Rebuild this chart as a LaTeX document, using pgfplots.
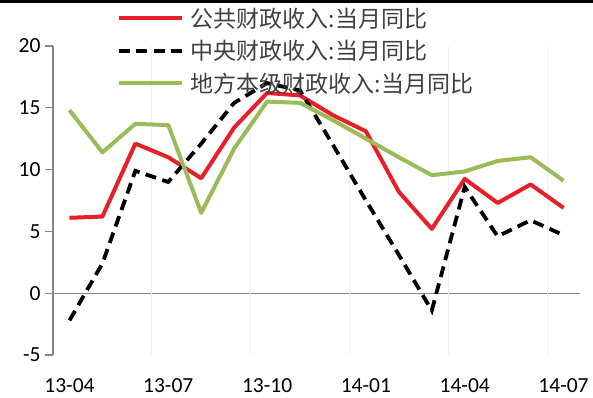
\documentclass[border=0pt]{standalone}
\usepackage{fontspec}
\setmainfont{Carlito}
\newfontfamily\cjk{Noto Sans CJK SC}
\usepackage{pgfplots}
\pgfplotsset{compat=1.18}
\definecolor{cred}{RGB}{232,30,40}
\definecolor{cgreen}{RGB}{155,187,89}
\definecolor{axgray}{RGB}{134,134,134}
\definecolor{txtgray}{RGB}{64,64,64}
\begin{document}
\begin{tikzpicture}
\path[use as bounding box] (0,0) rectangle (593bp,398bp);
\fill[black] (0,395.2bp) rectangle (593bp,398bp);
\begin{axis}[
  at={(53bp,43bp)}, anchor=south west,
  scale only axis, width=527bp, height=309bp,
  xmin=-0.5, xmax=15.5, ymin=-5, ymax=20,
  axis x line=middle, axis y line=left,
  x axis line style={-, draw=axgray, line width=1.2bp},
  y axis line style={-, draw=axgray, line width=1.2bp},
  xtick={0,3,6,9,12,15},
  xticklabels={13-04,13-07,13-10,14-01,14-04,14-07},
  major x tick style={draw=none},
  extra x ticks={2.5,5.5,8.5,11.5,14.5},
  extra x tick labels={},
  extra x tick style={grid=major, major grid style={draw=gray!10, line width=0.8bp},
     tick style={draw=axgray, line width=1.2bp}, xtick align=inside, major tick length=8bp},
  xticklabel style={yshift=-78bp, font=\fontsize{21.5bp}{24bp}\selectfont},
  ytick={-5,0,5,10,15,20},
  ytick align=outside,
  ytick style={draw=axgray, line width=1.2bp},
  major tick length=8bp,
  yticklabel style={font=\fontsize{21.5bp}{24bp}\selectfont, xshift=-1bp},
  /pgf/number format/assume math mode=true,
  clip=false,
  legend cell align=left,
  legend style={at={(0.1214,1.123)}, anchor=north west, draw=none, fill=none,
    inner sep=0pt, outer sep=0pt, row sep=11.5bp, column sep=7bp,
    font=\cjk\fontsize{23bp}{27bp}\selectfont, text=txtgray,
    nodes={inner sep=0pt}},
  legend image code/.code={\draw[#1] (0bp,0bp) -- (63bp,0bp);},
]
\addplot[cred, line width=4bp, line join=round] coordinates {
(0,6.1) (1,6.2) (2,12.1) (3,11.0) (4,9.3) (5,13.4) (6,16.2) (7,16.0)
(8,14.4) (9,13.1) (10,8.2) (11,5.2) (12,9.25) (13,7.3) (14,8.8) (15,6.9)};
\addlegendentry{公共财政收入:当月同比}
\addplot[black, line width=3.8bp, dash pattern=on 11bp off 6.5bp] coordinates {
(0,-2.2) (1,2.4) (2,9.9) (3,9.0) (4,12.1) (5,15.4) (6,17.0) (7,16.4)
(8,12.0) (9,7.5) (10,3.1) (11,-1.4) (12,8.6) (13,4.6) (14,5.9) (15,4.7)};
\addlegendentry{中央财政收入:当月同比}
\addplot[cgreen, line width=4bp, line join=round] coordinates {
(0,14.8) (1,11.4) (2,13.7) (3,13.6) (4,6.5) (5,11.7) (6,15.5) (7,15.4)
(8,14.0) (9,12.5) (10,11.0) (11,9.55) (12,9.85) (13,10.7) (14,11.0) (15,9.1)};
\addlegendentry{地方本级财政收入:当月同比}
\end{axis}
\end{tikzpicture}
\end{document}
